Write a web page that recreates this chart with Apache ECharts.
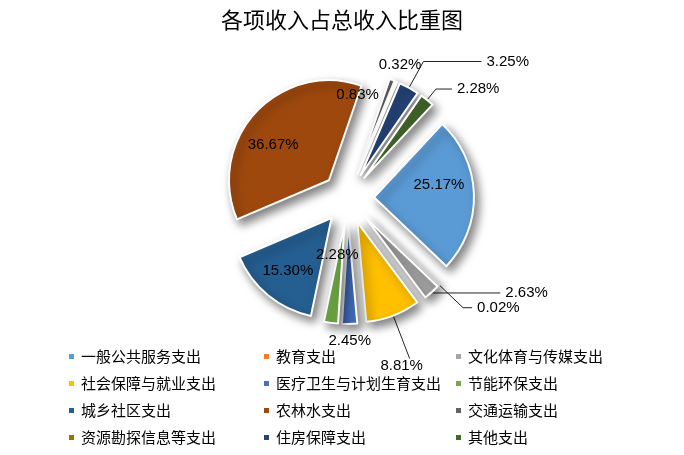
<!DOCTYPE html>
<html>
<head>
<meta charset="utf-8">
<title>各项收入占总收入比重图</title>
<script src="https://cdn.jsdelivr.net/npm/echarts@6/dist/echarts.min.js"></script>
<style>
html, body { margin: 0; padding: 0; background: #fff; }
#main { width: 684px; height: 455px; }
</style>
</head>
<body>
<div id="main"></div>
<script>
// 支出项目
var categories = ['一般公共服务支出', '教育支出', '文化体育与传媒支出',
	'社会保障与就业支出', '医疗卫生与计划生育支出', '节能环保支出',
	'城乡社区支出', '农林水支出', '交通运输支出',
	'资源勘探信息等支出', '住房保障支出', '其他支出'];
// 占比（%）
var shares = [25.17, 0.02, 2.63, 8.81, 2.45, 2.28, 15.30, 36.67, 0.83, 0.32, 3.25, 2.28];

var colors = ['#5B9BD5', '#ED7D31', '#A5A5A5', '#FFC000', '#4472C4', '#70AD47',
	'#255E91', '#9E480E', '#636363', '#997300', '#264478', '#43682B'];

// 每个标签的摆放方式：pos 内/外，line 是否画引导线，len/len2 引导线两段长度，
// off 内部标签的微调，align 外部标签的对齐
var labelStyle = [
	{ pos: 'inside', off: [12, -11] },
	{ pos: 'outside', line: true, len: 33, len2: 9 },
	{ pos: 'outside', line: true, len: 1, len2: 68 },
	{ pos: 'outside', line: true, len: 46, len2: 0, dist: -8, align: 'center', valign: 'top' },
	{ pos: 'outside', line: false, len: 9, len2: 0, dist: 0, align: 'center', valign: 'top' },
	{ pos: 'inside', off: [0, -21] },
	{ pos: 'inside', off: [-10, 12] },
	{ pos: 'inside', off: [-17, 1] },
	{ pos: 'inside', off: [-18, -29] },
	{ pos: 'outside', line: false, len: 10, len2: 0, dist: 0, align: 'center', valign: 'bottom' },
	{ pos: 'outside', line: true, len: 30, len2: 58 },
	{ pos: 'outside', line: true, len: 14, len2: 16 }
];

var pieData = [];
for (var i = 0; i < categories.length; i++) {
	var ls = labelStyle[i];
	var item = {
		name: categories[i],
		value: shares[i],
		selected: true,
		itemStyle: { color: colors[i] },
		label: { position: ls.pos },
		labelLine: { show: !!ls.line }
	};
	if (ls.pos == 'outside') {
		item.labelLine.length = ls.len;
		item.labelLine.length2 = ls.len2;
		if (ls.dist != null) item.label.distanceToLabelLine = ls.dist;
	}
	pieData.push(item);
}

// 图例分三列
function legendCol(left, names) {
	return {
		orient: 'vertical',
		left: left,
		top: 344,
		icon: 'rect',
		itemWidth: 7,
		itemHeight: 7,
		itemGap: 12,
		selectedMode: false,
		textStyle: {
			fontFamily: 'Noto Sans CJK SC',
			fontSize: 15,
			lineHeight: 15,
			color: '#000',
			padding: [0, 0, 0, 1]
		},
		data: names
	};
}
var col1 = [], col2 = [], col3 = [];
for (var j = 0; j < categories.length; j++) {
	[col1, col2, col3][j % 3].push(categories[j]);
}

var chart = echarts.init(document.getElementById('main'));
chart.setOption({
	animation: false,
	title: {
		text: '各项收入占总收入比重图',
		left: 'center',
		top: 4,
		textStyle: {
			fontFamily: 'Noto Sans CJK SC',
			fontSize: 22,
			fontWeight: 'normal',
			color: '#000'
		}
	},
	legend: [legendCol(62, col1), legendCol(257, col2), legendCol(449, col3)],
	series: [{
		name: '占比',
		type: 'pie',
		center: [348, 198],
		radius: 100,
		startAngle: 47,
		clockwise: true,
		selectedMode: 'multiple',
		selectedOffset: 26,
		avoidLabelOverlap: false,
		itemStyle: {
			borderColor: '#fff',
			borderWidth: 2,
			shadowBlur: 10,
			shadowOffsetX: 4,
			shadowOffsetY: 5,
			shadowColor: 'rgba(0,0,0,0.5)'
		},
		label: {
			formatter: function (p) { return p.value.toFixed(2) + '%'; },
			fontFamily: 'Liberation Sans',
			fontSize: 15,
			color: '#000'
		},
		labelLine: {
			lineStyle: { color: '#222', width: 1 }
		},
		labelLayout: function (params) {
			var ls = labelStyle[params.dataIndex];
			var out = {};
			if (ls.align) {
				out.align = ls.align;
				out.verticalAlign = ls.valign;
			}
			if (ls.off) {
				out.dx = ls.off[0];
				out.dy = ls.off[1];
			}
			return out;
		},
		emphasis: { disabled: true },
		data: pieData
	}]
});
</script>
</body>
</html>
